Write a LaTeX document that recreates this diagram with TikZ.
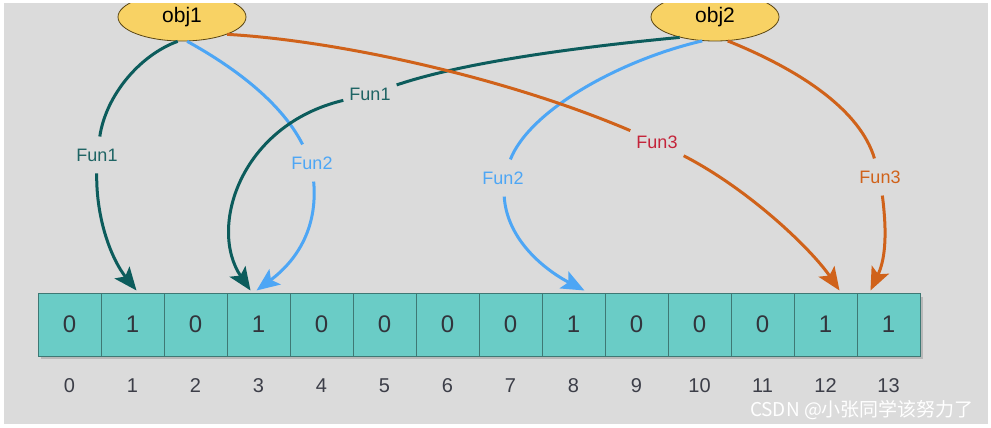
\documentclass[tikz,border=0pt]{standalone}
\usepackage{fontspec}
\setmainfont{Liberation Sans}
\newfontfamily\cjkfont{Noto Sans CJK SC}
\usetikzlibrary{arrows.meta,shapes.geometric}
\definecolor{bggray}{RGB}{219,219,219}
\definecolor{objfill}{RGB}{248,210,100}
\definecolor{objline}{RGB}{90,70,20}
\definecolor{tealdk}{RGB}{12,92,92}
\definecolor{teallbl}{RGB}{30,100,100}
\definecolor{lblue}{RGB}{77,166,245}
\definecolor{orng}{RGB}{208,98,26}
\definecolor{redlbl}{RGB}{196,36,58}
\definecolor{cellfill}{RGB}{106,204,198}
\definecolor{cellline}{RGB}{62,120,116}
\definecolor{digit}{RGB}{50,52,60}
\definecolor{idxcol}{RGB}{60,62,72}
\begin{document}
\begin{tikzpicture}[x=1pt,y=-1pt,
  objnode/.style={ellipse,draw=objline,line width=0.8pt,fill=objfill,minimum width=128pt,minimum height=48pt,inner sep=0pt,font=\fontsize{21}{21}\selectfont},
  lbl/.style={inner xsep=6pt,inner ysep=12pt,font=\fontsize{18}{18}\selectfont},
  cellbox/.style={draw=cellline,fill=cellfill,line width=1pt,minimum size=63pt,inner sep=0pt,font=\fontsize{24}{24}\selectfont,text=digit},
  idx/.style={font=\fontsize{20}{20}\selectfont,text=idxcol,inner sep=0pt},
  conn/.style={line width=3pt},
  arr/.style={conn,-{Stealth[length=23pt,width=19pt,inset=5pt]}}
]
\useasboundingbox (0,0) rectangle (991,428);
\fill[white] (0,0) rectangle (991,428);
\fill[bggray] (4,3) rectangle (988,424);

% cells
\fill[black!28] (41,297) rectangle (923,359);
\foreach \i/\v in {0/0,1/1,2/0,3/1,4/0,5/0,6/0,7/0,8/1,9/0,10/0,11/0,12/1,13/1} {
  \node[cellbox] (c\i) at ({69.5+63*\i},324.5) {\v};
  \node[idx] (n\i) at ({69.5+63*\i},386) {\i};
}

% objects
\node[objnode] (obj1) at (182,17) {obj1};
\node[objnode] (obj2) at (715,17) {obj2};
\fill[white] (0,0) rectangle (991,3);

% labels
\node[lbl,text=teallbl] (f1a) at (97,155) {Fun1};
\node[lbl,text=lblue] (f2a) at (312,163) {Fun2};
\node[lbl,text=teallbl] (f1b) at (370,94) {Fun1};
\node[lbl,text=lblue] (f2b) at (503,178) {Fun2};
\node[lbl,text=redlbl] (f3a) at (657,142) {Fun3};
\node[lbl,text=orng] (f3b) at (880,177) {Fun3};

% connectors
\draw[conn,tealdk] (obj1.260) .. controls (140,55) and (106,95) .. (f1a);
\draw[arr,tealdk] (f1a) .. controls (96,220) and (112,260) .. ([xshift=4pt,yshift=2pt]c1.north);

\draw[conn,lblue] (obj1.282) .. controls (230,65) and (280,100) .. (f2a);
\draw[arr,lblue] (f2a) .. controls (318,230) and (295,262) .. ([xshift=-2pt,yshift=2pt]c3.north);

\draw[conn,tealdk] (obj2.210) .. controls (600,45) and (470,60) .. (f1b);
\draw[arr,tealdk] (f1b) .. controls (240,125) and (208,228) .. ([xshift=-8pt,yshift=2pt]c3.north);

\draw[conn,lblue] (obj2.242) .. controls (620,60) and (530,110) .. (f2b);
\draw[arr,lblue] (f2b) .. controls (507,240) and (545,270) .. ([xshift=11pt,yshift=2pt]c8.north);

\draw[conn,orng] (obj1.339) .. controls (330,40) and (500,75) .. (f3a);
\draw[arr,orng] (f3a) .. controls (750,190) and (812,250) .. ([xshift=14pt,yshift=2pt]c12.north);

\draw[conn,orng] (obj2.298) .. controls (800,70) and (860,110) .. (f3b);
\draw[arr,orng] (f3b) .. controls (888,240) and (884,262) .. ([xshift=-18pt,yshift=2pt]c13.north);

% watermark
\node[font=\cjkfont\fontsize{19}{19}\selectfont,text=white,inner sep=0pt] (wm) at (862,410) {CSDN @小张同学该努力了};
\end{tikzpicture}
\end{document}
